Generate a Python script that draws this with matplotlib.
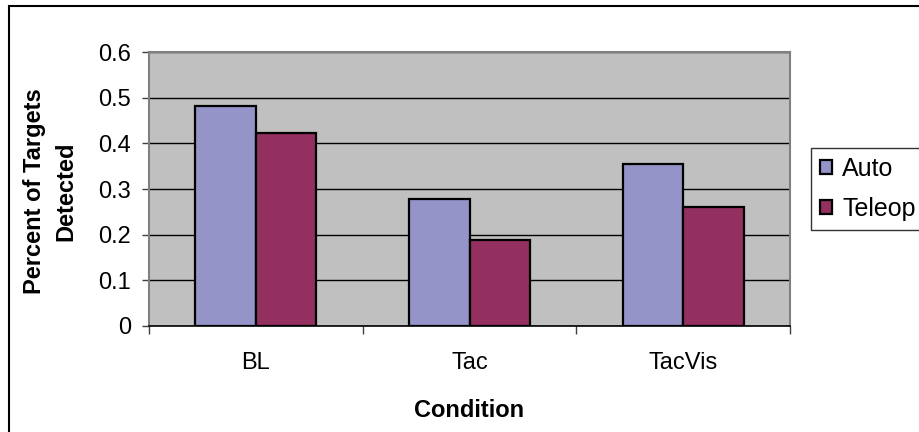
import matplotlib
matplotlib.use('Agg')
import matplotlib.pyplot as plt
import matplotlib.patches as mpatches
import numpy as np

plt.rcParams['font.family'] = ['Liberation Sans', 'DejaVu Sans']

# data
conditions = ['BL', 'Tac', 'TacVis']
auto = [0.483, 0.278, 0.355]
teleop = [0.423, 0.188, 0.260]
series_names = ['Auto', 'Teleop']
yticks = [0, 0.1, 0.2, 0.3, 0.4, 0.5, 0.6]

col_auto = '#9494C8'
col_teleop = '#933060'
fs = 17

fig = plt.figure(figsize=(9.19, 4.32), dpi=100)
ax = fig.add_axes([149 / 919, 1 - 325.7 / 432, (790 - 149) / 919, (325.7 - 52.3) / 432])
ax.set_facecolor('#C0C0C0')

x = np.arange(len(conditions))
w = 0.283
ax.bar(x - w / 2, auto, w, color=col_auto, edgecolor='black', linewidth=1.6, label=series_names[0], zorder=3)
ax.bar(x + w / 2, teleop, w, color=col_teleop, edgecolor='black', linewidth=1.6, label=series_names[1], zorder=3)

ax.set_xlim(-0.5, len(conditions) - 0.5)
ax.set_ylim(0, 0.6)
ax.set_yticks(yticks)
ax.set_yticklabels([('%g' % v) for v in yticks], fontsize=fs)
ax.yaxis.grid(True, color='black', linewidth=1.0, zorder=1)
ax.set_axisbelow(True)
ax.tick_params(axis='y', direction='out', length=5, width=1, color='#404040', pad=8)

ax.set_xticks(x)
ax.set_xticklabels(conditions, fontsize=fs)
ax.set_xticks(np.arange(len(conditions) + 1) - 0.5, minor=True)
ax.tick_params(axis='x', which='major', length=0, pad=19)
ax.tick_params(axis='x', which='minor', direction='out', length=6, width=1, color='#404040')

for s in ['top', 'right', 'left']:
    ax.spines[s].set_color('#808080')
    ax.spines[s].set_linewidth(1.5)
ax.spines['bottom'].set_color('black')
ax.spines['bottom'].set_linewidth(1.2)

fig.text(50 / 919, 1 - 191 / 432, 'Percent of Targets\nDetected', rotation=90,
         ha='center', va='center', multialignment='center', fontsize=fs,
         fontweight='bold', linespacing=1.45)
fig.text(0.5 * (149 + 790) / 919, 1 - 417 / 432, 'Condition', ha='center', va='baseline',
         fontsize=fs, fontweight='bold')

leg = fig.legend(loc='upper left', bbox_to_anchor=(811 / 919, 1 - 148 / 432), fontsize=fs + 1,
                 frameon=True, fancybox=False, edgecolor='black', handlelength=0.5,
                 handleheight=0.5, handletextpad=0.4, borderpad=0.35, labelspacing=0.65,
                 borderaxespad=0)
leg.get_frame().set_linewidth(1.0)

# outer chart border
fig.patches.append(mpatches.Rectangle((9 / 919, -0.05), 1.1, 1 - 6 / 432 + 0.05,
                                      transform=fig.transFigure, fill=False,
                                      edgecolor='black', linewidth=1.5))

fig.savefig('out.png', dpi=100)
